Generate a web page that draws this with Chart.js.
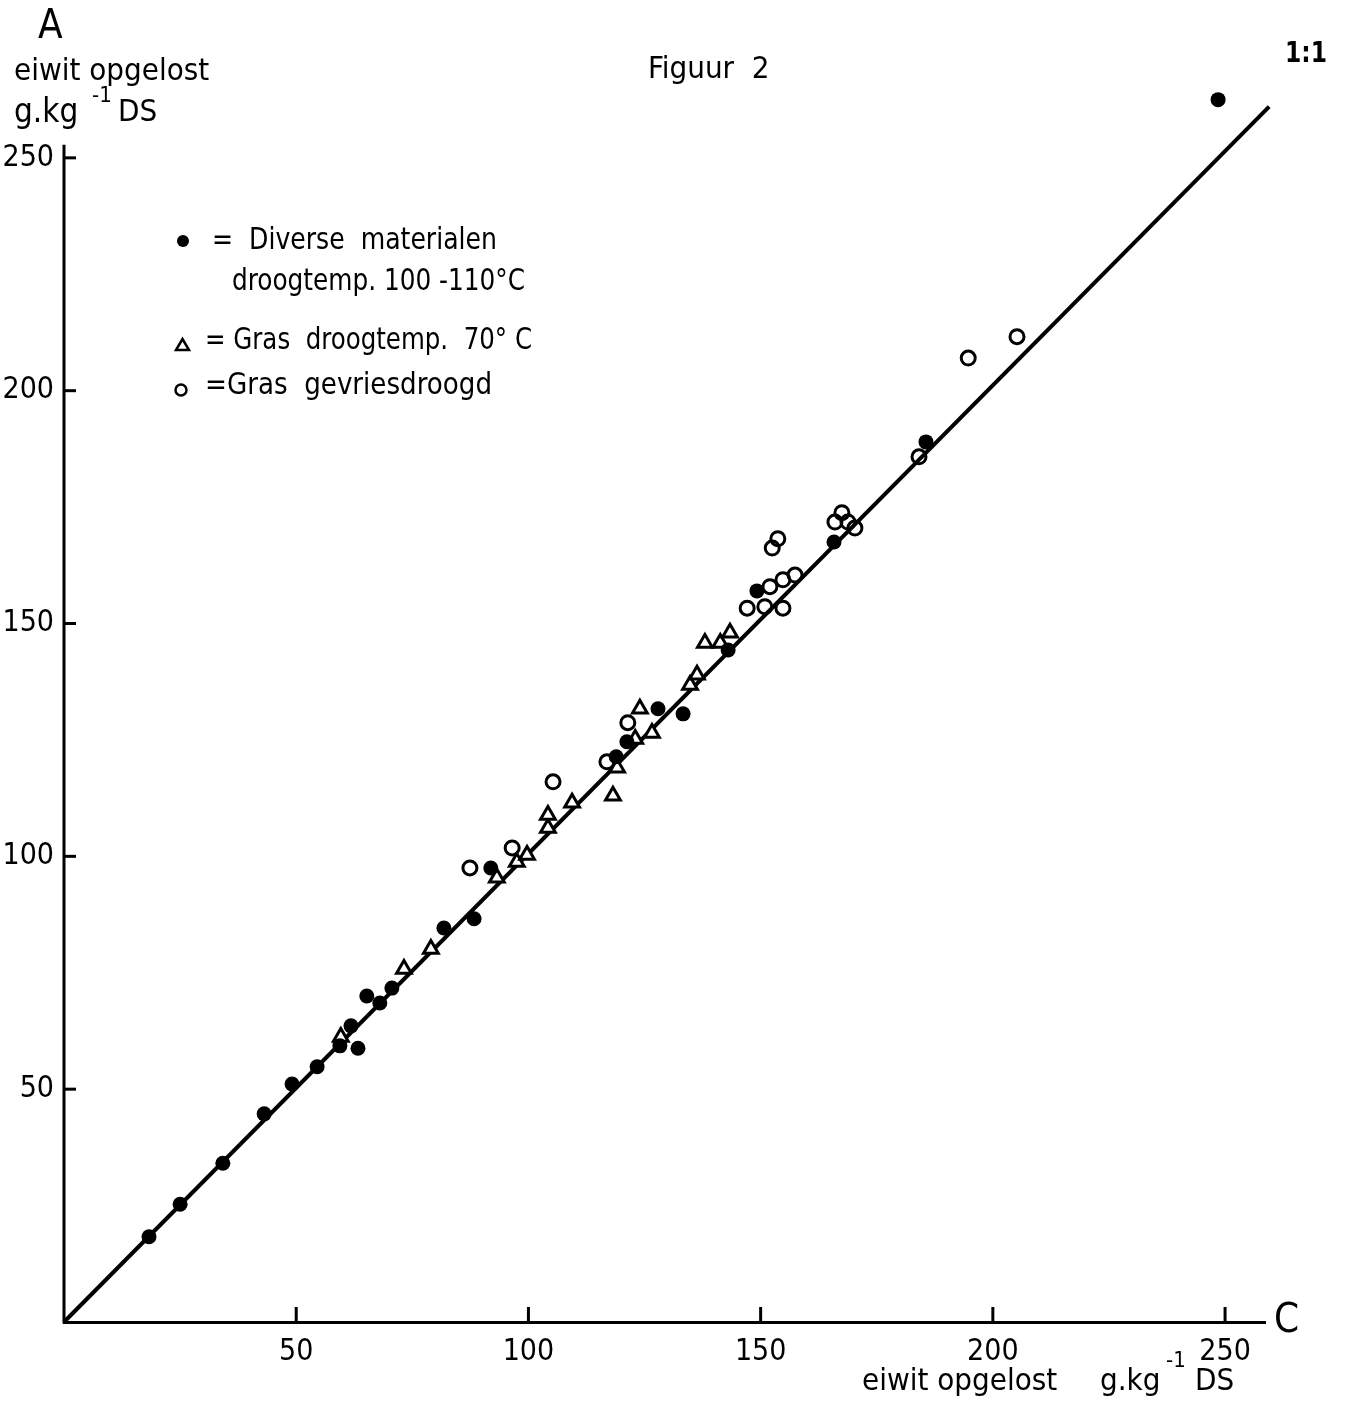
<!DOCTYPE html>
<html>
<head>
<meta charset="utf-8">
<script src="https://cdn.jsdelivr.net/npm/chart.js@4.4.0/dist/chart.umd.min.js"></script>
<style>
  html, body { margin: 0; padding: 0; background: #fff; }
  #wrap { width: 1346px; height: 1406px; position: relative; }
</style>
</head>
<body>
<div id="wrap"><canvas id="chart" width="1346" height="1406"></canvas></div>
<script>
// Diverse materialen, droogtemp. 100-110 C
var diverseX = [18.3, 25.0, 34.2, 43.1, 49.1, 54.5, 59.4, 61.8, 63.3, 65.2, 68.0, 70.6, 81.8, 88.3, 91.9, 118.9, 121.2, 127.9, 133.3, 143.0, 149.2, 165.8, 185.6, 248.5];
var diverseY = [18.3, 25.3, 34.1, 44.7, 51.1, 54.8, 59.3, 63.6, 58.8, 70.0, 68.5, 71.7, 84.6, 86.6, 97.5, 121.4, 124.6, 131.7, 130.6, 144.3, 157.0, 167.5, 189.0, 262.5];

// Gras droogtemp. 70 C
var gras70X = [59.6, 73.2, 79.0, 93.2, 97.5, 99.7, 104.2, 104.2, 109.4, 118.2, 119.1, 123.0, 124.0, 126.6, 134.8, 136.3, 138.0, 141.3, 143.4];
var gras70Y = [61.2, 75.8, 80.1, 95.4, 98.8, 100.3, 106.1, 108.9, 111.5, 113.0, 119.0, 125.2, 131.7, 126.5, 136.8, 139.0, 145.8, 145.8, 148.0];

// Gras gevriesdroogd
var vriesX = [87.4, 96.5, 105.3, 116.9, 121.4, 147.1, 150.9, 154.8, 152.0, 154.8, 157.4, 152.5, 153.7, 166.0, 167.5, 168.8, 170.3, 184.1, 194.7, 205.2];
var vriesY = [97.5, 101.8, 116.0, 120.3, 128.7, 153.3, 153.6, 153.3, 157.9, 159.4, 160.4, 166.2, 168.2, 171.8, 173.8, 171.8, 170.5, 185.8, 207.0, 211.6];

// 1:1 lijn
var lineX = [0, 259.5];
var lineY = [0, 261];

var tickValues = [50, 100, 150, 200, 250];
var yAxisTop = 252.8;   // where the drawn y axis line stops

function pts(xs, ys) {
    return xs.map(function(x, i) { return {x: x, y: ys[i]}; });
}

var FONT = '"DejaVu Sans Condensed", "DejaVu Sans", sans-serif';

var extras = {
    id: 'extras',
    afterDraw: function(chart) {
        var ctx = chart.ctx;
        var xs = chart.scales.x, ys = chart.scales.y;
        var a = chart.chartArea;
        ctx.save();
        ctx.strokeStyle = '#000';
        ctx.fillStyle = '#000';
        ctx.lineWidth = 3;
        // y axis line (shorter than the chart area)
        ctx.beginPath();
        ctx.moveTo(a.left, ys.getPixelForValue(0) + 1.5);
        ctx.lineTo(a.left, ys.getPixelForValue(yAxisTop));
        ctx.stroke();
        // inward ticks
        tickValues.forEach(function(v) {
            var px = xs.getPixelForValue(v);
            ctx.beginPath(); ctx.moveTo(px, a.bottom); ctx.lineTo(px, a.bottom - 15); ctx.stroke();
            var py = ys.getPixelForValue(v);
            ctx.beginPath(); ctx.moveTo(a.left, py); ctx.lineTo(a.left + 12, py); ctx.stroke();
        });

        ctx.textBaseline = 'middle';
        ctx.textAlign = 'left';
        ctx.font = '40px ' + FONT;
        ctx.fillText('A', 38, 28);
        ctx.fillText('C', 1274, 1322);

        ctx.font = '31px ' + FONT;
        ctx.fillText('eiwit opgelost', 14, 72, 198);
        ctx.font = '33px ' + FONT;
        ctx.fillText('g.kg', 14, 113);
        ctx.font = '22px ' + FONT;
        ctx.fillText('-1', 92, 96);
        ctx.font = '31px ' + FONT;
        ctx.fillText('DS', 118, 113);

        ctx.fillText('Figuur  2', 648, 70, 124);
        ctx.font = 'bold 28px ' + FONT;
        ctx.fillText('1:1', 1285, 55, 42);

        ctx.font = '31px ' + FONT;
        ctx.fillText('eiwit opgelost', 862, 1382, 198);
        ctx.fillText('g.kg', 1100, 1382);
        ctx.font = '22px ' + FONT;
        ctx.fillText('-1', 1166, 1361);
        ctx.font = '31px ' + FONT;
        ctx.fillText('DS', 1195, 1382);

        // legend
        ctx.font = '30px ' + FONT;
        ctx.beginPath(); ctx.arc(183, 241, 6, 0, Math.PI * 2); ctx.fill();
        ctx.fillText('=  Diverse  materialen', 212, 241, 285);
        ctx.fillText('droogtemp. 100 -110\u00b0C', 232, 282, 293);

        ctx.lineWidth = 2.5;
        ctx.beginPath(); ctx.moveTo(176, 350); ctx.lineTo(189, 350); ctx.lineTo(182.5, 339); ctx.closePath(); ctx.stroke();
        ctx.fillText('= Gras  droogtemp.  70\u00b0 C', 205, 341, 327);

        ctx.beginPath(); ctx.arc(181, 390, 5.5, 0, Math.PI * 2); ctx.stroke();
        ctx.fillText('=Gras  gevriesdroogd', 205, 386, 287);
        ctx.restore();
    }
};

new Chart(document.getElementById('chart'), {
    type: 'scatter',
    data: {
        datasets: [
            {
                label: 'Diverse materialen droogtemp. 100-110\u00b0C',
                data: pts(diverseX, diverseY),
                pointStyle: 'circle',
                pointRadius: 7.5,
                backgroundColor: '#000',
                borderColor: '#000',
                borderWidth: 0,
                clip: false
            },
            {
                label: 'Gras droogtemp. 70\u00b0C',
                data: pts(gras70X, gras70Y),
                pointStyle: 'triangle',
                pointRadius: 8.5,
                backgroundColor: '#fff',
                borderColor: '#000',
                borderWidth: 3,
                clip: false
            },
            {
                label: 'Gras gevriesdroogd',
                data: pts(vriesX, vriesY),
                pointStyle: 'circle',
                pointRadius: 7,
                backgroundColor: 'rgba(255,255,255,0)',
                borderColor: '#000',
                borderWidth: 3,
                clip: false
            },
            {
                type: 'line',
                label: '1:1',
                data: pts(lineX, lineY),
                borderColor: '#000',
                borderWidth: 4,
                pointRadius: 0,
                fill: false,
                clip: false,
                order: 10
            }
        ]
    },
    options: {
        responsive: false,
        animation: false,
        devicePixelRatio: 1,
        layout: { padding: { top: 88, right: 81, left: 0, bottom: 0 } },
        plugins: {
            legend: { display: false },
            tooltip: { enabled: false }
        },
        scales: {
            x: {
                type: 'linear',
                min: 0,
                max: 258.6,
                afterFit: function(s) { s.height = 84; },
                border: { display: true, color: '#000', width: 3 },
                grid: { drawOnChartArea: false, drawTicks: false },
                ticks: {
                    stepSize: 50,
                    includeBounds: false,
                    padding: 12,
                    color: '#000',
                    font: { family: FONT, size: 30 },
                    maxRotation: 0,
                    callback: function(v) { return v === 0 ? '' : v; }
                }
            },
            y: {
                type: 'linear',
                min: 0,
                max: 265,
                afterFit: function(s) { s.width = 64; },
                border: { display: false },
                grid: { drawOnChartArea: false, drawTicks: false },
                ticks: {
                    stepSize: 50,
                    includeBounds: false,
                    padding: 10,
                    color: '#000',
                    font: { family: FONT, size: 30 },
                    callback: function(v) { return v === 0 ? '' : v; }
                }
            }
        }
    },
    plugins: [extras]
});
</script>
</body>
</html>
